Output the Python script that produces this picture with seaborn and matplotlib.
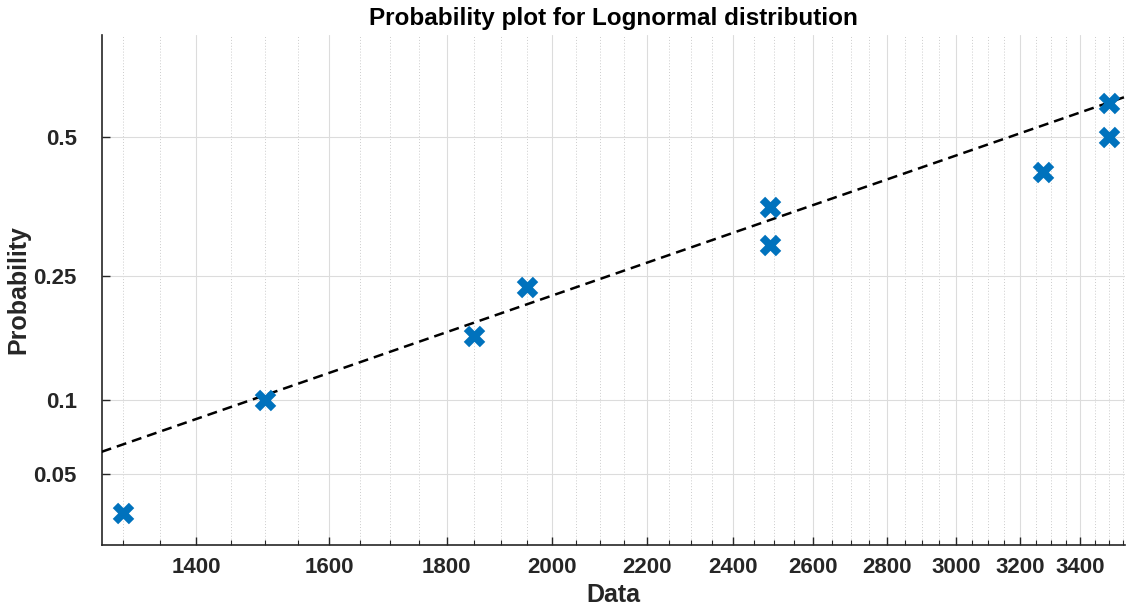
import numpy as np
import pandas as pd
import matplotlib
matplotlib.use("Agg")
import matplotlib.pyplot as plt
import matplotlib.ticker as mticker
import seaborn as sns
from statistics import NormalDist

# ---------------- data ----------------
data_values = [1300, 1500, 1850, 1950, 2490, 2490, 3275, 3500, 3500]
probabilities = [0.0333, 0.1, 0.1667, 0.2333, 0.3, 0.3667, 0.4333, 0.5, 0.5667]
fit_mu = 8.059        # lognormal fit, mean of ln(x)
fit_sigma = 0.593     # lognormal fit, std of ln(x)
x_limits = [1273, 3555]
y_limits = [0.02335, 0.6915]
x_major_ticks = [1400, 1600, 1800, 2000, 2200, 2400, 2600, 2800, 3000, 3200, 3400]
x_tick_labels = [str(v) for v in x_major_ticks]
x_minor_ticks = [v for v in range(1300, 3551, 50) if v not in x_major_ticks]
y_ticks = [0.05, 0.1, 0.25, 0.5]
y_tick_labels = ["0.05", "0.1", "0.25", "0.5"]

# ---------------- style ----------------
sns.set_theme(style="white")
plt.rcParams["font.family"] = ["Liberation Sans", "DejaVu Sans"]
plt.rcParams["font.weight"] = "bold"

AX_COLOR = "#262626"
BLUE = "#0072BD"

nd = NormalDist()
_ppf = np.vectorize(lambda p: nd.inv_cdf(p), otypes=[float])
_cdf = np.vectorize(lambda z: nd.cdf(z), otypes=[float])


def forward(p):
    p = np.clip(np.asarray(p, dtype=float), 1e-9, 1 - 1e-9)
    return _ppf(p)


def inverse(z):
    return _cdf(np.asarray(z, dtype=float))


fig = plt.figure(figsize=(11.26, 6.13), dpi=100)
ax = fig.add_axes([0.0903, 0.111, 0.9087, 0.832])

ax.set_xscale("log")
ax.set_yscale("function", functions=(forward, inverse))

# fitted lognormal line over the x range
line_x = np.geomspace(x_limits[0], x_limits[1], 200)
line_p = np.array([nd.cdf((np.log(v) - fit_mu) / fit_sigma) for v in line_x])
fit_df = pd.DataFrame({"x": line_x, "p": line_p})
sns.lineplot(data=fit_df, x="x", y="p", ax=ax, color="black", lw=1.8,
             estimator=None, sort=False, zorder=3)
ax.lines[-1].set_dashes((4, 2.4))

pts = pd.DataFrame({"Data": data_values, "Probability": probabilities})
sns.scatterplot(data=pts, x="Data", y="Probability", ax=ax, marker="X",
                s=240, color=BLUE, linewidth=0, zorder=4)

ax.set_xlim(*x_limits)
ax.set_ylim(*y_limits)

ax.xaxis.set_major_locator(mticker.FixedLocator(x_major_ticks))
ax.xaxis.set_major_formatter(mticker.FixedFormatter(x_tick_labels))
ax.xaxis.set_minor_locator(mticker.FixedLocator(x_minor_ticks))
ax.xaxis.set_minor_formatter(mticker.NullFormatter())
ax.yaxis.set_major_locator(mticker.FixedLocator(y_ticks))
ax.yaxis.set_major_formatter(mticker.FixedFormatter(y_tick_labels))
ax.yaxis.set_minor_locator(mticker.NullLocator())

ax.grid(True, which="major", axis="both", color="#dcdcdc", lw=0.8, ls="-")
ax.grid(True, which="minor", axis="x", color="#cccccc", lw=0.7, ls=(0, (1, 2)))
ax.set_axisbelow(True)

for s in ["top", "right"]:
    ax.spines[s].set_visible(False)
for s in ["left", "bottom"]:
    ax.spines[s].set_color(AX_COLOR)
    ax.spines[s].set_linewidth(1.2)

ax.tick_params(axis="x", which="major", direction="in", length=6, width=1.0,
               color=AX_COLOR, labelsize=16, labelcolor=AX_COLOR, pad=9,
               bottom=True)
ax.tick_params(axis="x", which="minor", direction="in", length=3.5, width=0.8,
               color=AX_COLOR, bottom=True)
ax.tick_params(axis="y", which="major", direction="in", length=6, width=1.0,
               color=AX_COLOR, labelsize=16, labelcolor=AX_COLOR, pad=18,
               left=True)
for lab in ax.get_xticklabels() + ax.get_yticklabels():
    lab.set_fontweight("bold")

ax.set_xlabel("Data", fontsize=18, fontweight="bold", color=AX_COLOR, labelpad=3)
ax.set_ylabel("Probability", fontsize=18, fontweight="bold", color=AX_COLOR)
ax.yaxis.set_label_coords(-0.07, 0.5)
ax.set_title("Probability plot for Lognormal distribution", fontsize=17.5,
             fontweight="bold", color="black", pad=7)

fig.savefig("out.png", dpi=100)
